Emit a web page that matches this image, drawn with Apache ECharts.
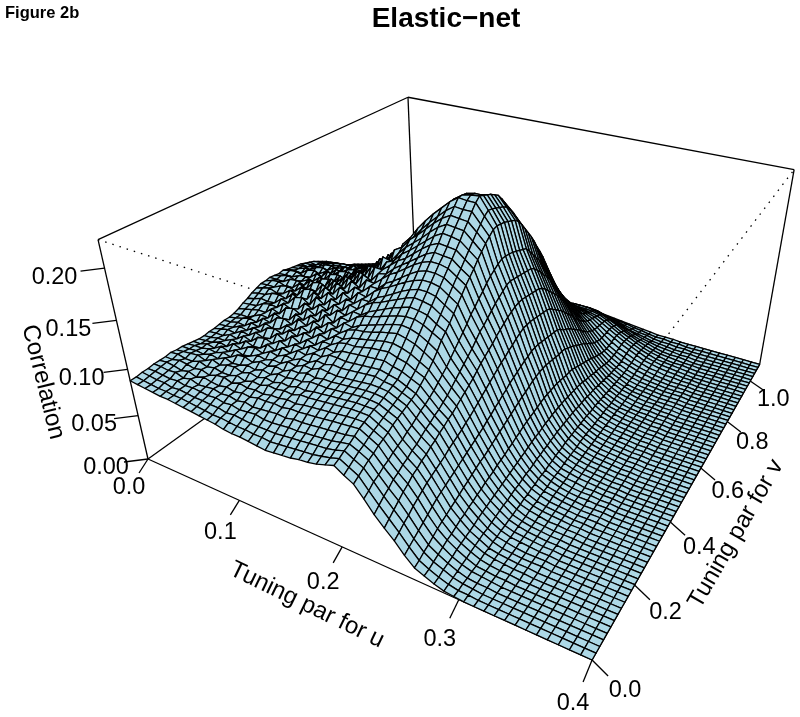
<!DOCTYPE html>
<html><head><meta charset="utf-8">
<style>html,body{margin:0;padding:0;background:#fff}#c{width:800px;height:717px}</style>
<script src="https://cdn.jsdelivr.net/npm/echarts@6/dist/echarts.min.js"></script>
</head><body><div id="c"></div>
<script>
const uMax = 0.4, vMax = 1.09, zMax = 0.226;
const uTicks = [0.0, 0.1, 0.2, 0.3, 0.4];
const vTicks = [0.0, 0.2, 0.4, 0.6, 0.8, 1.0];
const zTicks = [0.00, 0.05, 0.10, 0.15, 0.20];
const flatRow = [0,0,0,0,0,0,0,0,0,0,0,0,0,0,0,0,0,0,0,0,0,0,0,0,0,0,0,0,0,0,0,0,0,0,0,0,0,0,0,0,0,0,0,0,0,0,0,0,0,0,0,0,0,0,0,0,0,0,0,0,0,0,0,0,0,0];
// correlation x 1000; one row per u step, one column per v step
const corrByU = [
[88,88,89,89,90,90,90,91,90,90,89,88,87, 87,88,88,89,90,90,91,93,96,98,101,103,105, 105,106,105,104,105,103,102,101,100,98,96,94,91, 88,85,81,77,73,69,65,62,60,57,54,51,48, 45,42,39,35,32,29,26,23,21,18,16,14,12, 10],
[87,87,88,89,90,91,90,92,91,90,90,88,88, 88,89,90,90,91,92,92,95,97,100,103,106,106, 108,106,107,105,107,104,103,103,99,98,95,95,91, 88,85,82,78,74,70,66,63,60,57,54,51,48, 46,42,39,36,32,29,26,23,21,18,16,14,12, 10],
[86,86,87,88,89,90,92,90,92,91,90,91,89, 90,89,92,91,93,94,92,97,98,103,104,108,106, 109,106,110,105,108,103,106,101,102,98,99,94,90, 90,84,83,77,75,70,67,63,61,57,55,51,49, 46,43,39,36,32,29,26,23,21,18,16,14,12, 10],
[85,85,87,87,90,88,91,90,93,90,92,89,92, 90,93,91,95,92,97,96,99,103,102,108,105,110, 106,111,107,109,105,109,103,106,100,103,97,96,92, 92,85,84,78,76,71,68,63,62,57,55,52,49, 46,43,39,36,32,29,26,23,21,18,16,14,12, 9],
[84,85,85,88,87,90,89,93,90,93,91,94,90, 94,91,96,93,98,95,100,99,105,103,109,107,112, 107,112,108,110,106,111,104,108,102,104,98,98,93, 93,86,86,79,78,72,69,64,62,58,56,52,49, 47,43,40,36,33,29,26,23,21,18,16,14,12, 9],
[84,84,86,86,89,87,91,90,94,91,94,91,96, 92,97,94,99,96,102,99,106,104,110,107,113,109, 114,109,112,107,113,106,109,103,107,99,101,95,95, 88,87,80,79,73,71,65,63,59,57,53,50,47, 44,40,37,33,30,27,24,21,18,16,14,12,10, 9],
[83,84,85,87,86,90,88,92,91,95,92,96,93, 98,94,100,97,103,100,107,103,111,108,115,110,116, 111,117,110,114,108,115,107,111,104,108,100,103,96, 96,89,88,81,80,74,72,66,64,60,58,54,50, 47,44,40,37,33,30,27,24,21,18,16,14,12, 9],
[82,83,84,86,87,88,91,90,94,92,97,93,98, 95,101,97,104,100,108,103,112,107,117,111,119,113, 120,113,118,111,117,108,114,106,110,102,105,98,98, 91,90,83,81,75,73,67,65,60,58,54,51,47,44, 41,37,33,30,27,24,21,18,16,14,12,10, 9],
[81,82,84,85,88,87,92,90,95,93,98,95,100, 96,103,99,106,102,110,105,114,110,119,114,122,116, 123,115,120,113,119,110,116,108,112,104,107,99,100, 92,91,84,83,76,74,68,66,61,59,55,51,48, 45,41,37,34,30,27,24,21,18,16,14,12,10, 9],
[80,81,83,86,86,89,89,93,92,96,95,99,97, 103,100,107,103,109,106,114,110,119,114,124,118,126, 119,126,118,123,115,121,112,118,109,113,105,108,100, 100,93,92,85,83,77,75,69,67,62,59,55,52, 48,45,41,38,34,30,27,24,21,18,16,14,12, 8],
[79,80,83,84,87,87,92,90,95,94,99,97,102, 99,106,102,110,106,115,110,119,115,125,120,129,122, 130,122,127,119,125,116,122,113,118,109,113,104,105, 97,96,88,86,79,77,71,68,63,60,55,52,49, 45,41,38,34,30,27,24,21,18,16,14,12,10, 8],
[78,80,81,85,85,89,90,93,93,97,97,100,100, 105,102,110,106,113,110,118,114,123,119,129,124,133, 126,134,126,131,123,130,120,126,116,120,111,114,107, 107,99,98,90,87,81,79,72,69,64,61,56,53, 49,45,42,38,34,30,27,24,21,18,16,14,12, 8],
[76,79,82,83,87,88,91,92,96,95,100,99,104, 102,108,105,113,109,118,114,123,119,128,124,134,129, 138,130,138,131,137,128,134,124,129,119,123,114,116, 108,107,100,98,91,88,82,79,73,70,64,61,56, 53,49,45,42,38,34,30,27,24,21,18,15,12, 8],
[75,78,81,84,85,90,90,95,94,99,98,104,102, 108,106,112,110,118,114,124,120,128,125,134,130,140, 134,143,136,144,134,142,132,138,127,133,122,125,116, 117,109,108,100,98,91,89,82,80,73,70,64,60, 56,52,48,44,40,36,32,28,25,21,18,15,12, 8],
[75,78,80,85,86,90,92,94,97,98,102,102,106, 106,112,109,117,114,122,118,128,124,133,129,139,135, 146,139,149,141,151,142,149,138,144,133,138,127,128, 119,118,110,108,101,98,91,88,81,79,72,67,62, 58,53,49,45,41,36,32,28,25,21,18,15,12, 8],
[74,77,80,83,87,91,92,96,96,100,102,106,105, 111,110,116,114,122,119,127,125,133,131,139,137,146, 142,153,146,158,149,156,146,153,143,149,138,141,132, 130,122,119,112,109,102,99,91,88,81,77,70,64, 60,54,50,46,41,36,32,28,25,21,18,15,12, 8],
[73,77,80,83,88,90,94,95,99,100,105,105,110, 110,116,115,121,120,127,125,132,131,138,137,145,145, 152,153,158,156,165,158,165,156,161,152,155,147,145, 139,131,128,120,116,110,106,98,95,87,81,73,67, 62,55,51,46,41,36,32,28,25,21,18,15,12, 8],
[72,76,80,84,87,92,93,98,98,103,103,109,109, 115,114,120,120,126,125,132,131,138,138,145,145,152, 154,160,162,166,170,168,174,168,172,164,166,158,155, 149,140,136,127,123,117,112,104,99,91,84,76,69, 64,56,51,46,41,36,32,28,25,21,18,15,12, 8],
[73,77,81,85,89,92,95,98,100,103,105,108,112, 115,118,122,124,129,130,136,137,143,145,151,153,159, 162,167,171,175,180,180,186,181,184,177,177,170,166, 160,150,145,135,130,124,118,110,104,95,87,78,71, 65,57,52,47,41,36,32,28,25,21,18,15,12, 8],
[74,78,82,85,89,93,96,99,101,103,105,107,111, 114,119,122,126,130,133,138,141,146,149,155,158,164, 168,172,177,182,187,190,196,192,195,188,187,180,175, 168,158,152,142,136,130,123,115,108,98,90,80,72, 66,58,52,47,41,36,32,28,25,21,18,15,12, 8],
[75,79,83,86,90,94,97,100,102,104,106,108,112, 115,120,124,128,132,136,141,145,150,154,160,164,170, 174,179,184,189,195,199,205,202,204,198,196,189,184, 176,166,159,149,142,135,128,120,112,102,92,81,73, 67,59,53,47,41,36,32,28,25,21,18,15,12, 8],
[77,80,84,87,91,95,98,101,103,105,107,109,113, 116,121,126,130,135,139,144,149,154,159,165,170,176, 180,186,191,197,203,207,213,212,212,206,204,197,192, 184,174,166,156,148,141,134,125,116,105,94,82,73, 67,59,53,47,41,36,32,29,26,22,18,15,12, 8],
[78,81,85,88,92,96,99,102,104,106,108,110,114, 117,122,127,132,137,142,147,152,158,163,169,175,181, 186,192,198,204,210,215,221,221,220,214,211,204,199, 191,181,172,162,154,146,139,129,119,108,96,83,74, 67,59,53,47,41,36,33,30,27,22,18,15,12, 8],
[80,83,86,89,93,97,100,103,105,107,109,111,115, 118,123,128,133,139,144,149,155,161,166,172,178,184, 190,196,203,209,215,221,227,227,226,220,217,210,205, 197,187,178,168,160,151,144,133,122,110,98,85,75, 67,59,53,47,42,37,34,31,28,23,19,15,12, 8],
[83,85,88,91,94,98,101,103,105,107,109,111,113, 116,120,125,131,137,143,149,154,160,166,172,178,184, 189,195,202,208,214,220,226,229,228,224,221,215,211, 203,195,185,176,167,158,150,140,128,116,103,90,79, 70,62,55,49,43,38,35,32,29,24,19,15,11, 7],
[86,88,91,93,96,99,101,103,105,106,108,110,112, 114,118,123,128,134,140,146,152,158,164,170,176,182, 188,194,200,207,213,220,226,230,228,226,224,221,218, 212,205,197,189,181,173,162,154,143,132,120,108,96, 84,75,66,57,48,40,36,33,30,25,19,14,10, 7],
[80,83,86,89,91,94,96,98,100,102,104,106,108, 110,114,118,123,129,135,141,146,152,158,164,170,176, 181,187,193,199,205,210,215,218,217,215,213,211,208, 203,197,189,181,173,165,155,147,137,127,116,105,94, 83,74,66,58,50,43,38,35,31,25,20,15,11, 8],
[75,78,81,84,86,89,91,93,96,98,100,102,104, 106,110,114,118,123,129,136,141,146,152,158,164,170, 175,180,186,191,196,200,204,205,204,203,201,199,197, 193,187,180,173,166,158,149,141,132,122,112,102,92, 82,73,66,59,52,45,40,37,33,27,21,16,11, 8],
[64,67,71,73,76,78,81,83,85,88,90,93,96, 98,101,104,108,112,116,121,126,131,136,141,147,151, 156,160,165,169,172,175,177,177,176,175,173,171,169, 167,161,155,149,143,136,128,120,112,103,95,87,79, 72,65,59,54,48,43,39,37,33,27,22,16,12, 9],
[52,56,60,63,67,69,72,74,77,79,82,85,87, 90,92,95,98,102,106,110,114,118,122,127,132,135, 139,143,147,150,153,156,157,156,155,154,153,152,151, 148,143,138,132,127,121,114,107,100,92,85,78,71, 65,60,55,50,46,42,39,37,33,28,22,16,12, 9],
[42,46,50,54,58,61,65,67,70,72,75,77,80, 82,85,87,90,93,96,99,102,106,110,113,116,119, 123,126,129,132,134,136,137,137,136,135,134,133,132, 129,125,120,115,110,105,99,93,87,80,74,68,62, 57,53,49,46,43,40,38,35,32,27,21,15,11, 8],
[33,36,40,43,47,50,53,56,58,60,62,64,67, 69,71,73,76,78,81,84,87,90,93,96,99,102, 104,107,109,112,114,116,116,116,115,114,113,112,111, 109,105,101,97,93,88,83,78,73,67,62,57,53, 49,46,44,42,40,38,36,33,29,24,19,14,10, 7],
[22,25,28,31,34,37,40,43,45,47,49,51,53, 55,57,59,61,63,65,68,70,73,75,78,80,83, 85,87,89,91,92,94,94,94,93,92,91,90,89, 88,85,81,78,75,71,67,63,59,54,50,46,43, 40,38,37,36,35,34,32,29,25,21,16,12,9, 6],
[13,15,18,20,23,26,28,30,32,34,36,38,40, 42,44,46,47,49,51,53,55,57,59,61,63,65, 67,68,70,72,73,74,74,74,73,72,71,70,70, 69,66,64,61,58,55,52,49,45,42,38,35,33, 31,30,30,30,30,29,27,25,21,17,13,10,8, 5],
[9,10,12,14,16,18,19,21,23,24,26,27,29, 30,32,33,34,36,37,38,40,41,43,44,46,47, 48,49,50,51,52,52,52,52,52,51,50,49,49, 48,46,44,42,40,38,36,34,31,29,27,25,24, 23,23,24,25,25,24,22,20,17,14,10,8,6, 4],
[5,6,8,9,10,12,13,14,15,16,18,19,20, 21,22,23,24,25,26,27,28,29,30,31,32,33, 33,34,35,35,36,36,36,36,36,35,35,34,34, 33,32,30,29,28,26,25,24,22,21,19,18,18, 18,18,19,20,20,19,18,16,13,11,8,6,5, 3],
[2,3,4,5,6,7,8,9,10,11,11,12,13, 14,15,15,16,17,17,18,19,19,20,21,21,22, 22,23,23,24,24,24,24,24,24,24,23,23,23, 22,21,21,20,19,18,17,16,15,14,14,13,13, 13,14,15,16,16,15,14,12,10,8,6,5,3, 2],
[1,1,2,2,3,3,4,5,5,6,6,7,7, 8,8,9,9,10,10,11,11,12,12,12,13,13, 14,14,14,15,15,15,15,15,15,15,15,14,14, 14,14,13,13,12,12,11,11,10,10,9,9,9, 10,10,11,12,12,11,10,9,8,6,4,3,2, 1],
[0,1,1,1,2,2,2,3,3,3,4,4,4, 5,5,5,6,6,6,7,7,7,8,8,8,8, 9,9,9,9,9,10,10,10,10,9,9,9,9, 9,9,8,8,8,8,7,7,7,6,6,6,6, 7,7,8,8,8,8,7,6,5,4,3,2,2, 1],
[0,0,0,1,1,1,1,2,2,2,2,3,3, 3,3,3,4,4,4,4,5,5,5,5,5,6, 6,6,6,6,6,6,6,6,6,6,6,6,6, 6,6,6,5,5,5,5,5,4,4,4,4,4, 5,5,5,6,6,5,5,4,3,3,2,2,1, 1],
[0,0,0,0,0,1,1,1,1,1,1,2,2, 2,2,2,2,3,3,3,3,3,3,3,4,4, 4,4,4,4,4,4,4,4,4,4,4,4,4, 4,4,4,4,3,3,3,3,3,3,3,3,3, 3,3,4,4,4,4,3,3,2,2,1,1,1, 0],
[0,0,0,0,0,0,0,1,1,1,1,1,1, 1,1,1,2,2,2,2,2,2,2,2,2,3, 3,3,3,3,3,3,3,3,3,3,3,3,3, 3,3,3,3,2,2,2,2,2,2,2,2,2, 2,2,2,3,3,3,2,2,2,1,1,1,0, 0],
[0,0,0,0,0,0,0,0,0,1,1,1,1, 1,1,1,1,1,1,1,1,1,2,2,2,2, 2,2,2,2,2,2,2,2,2,2,2,2,2, 2,2,2,2,2,2,2,2,1,1,1,1,1, 1,1,2,2,2,2,2,1,1,1,1,0,0, 0],
[0,0,0,0,0,0,0,0,0,0,0,0,0, 0,0,1,1,1,1,1,1,1,1,1,1,1, 1,1,1,1,1,1,1,1,1,1,1,1,1, 1,1,1,1,1,1,1,1,1,1,1,1,1, 1,1,1,1,1,1,1,1,0,0,0,0,0, 0],
[0,0,0,0,0,0,0,0,0,0,0,0,0, 0,0,0,0,0,0,1,1,1,1,1,1,1, 1,1,1,1,1,1,1,1,1,1,1,1,1, 1,1,1,1,1,1,1,1,1,1,1,1,1, 1,1,1,1,0,0,0,0,0,0,0,0,0, 0],
flatRow, flatRow, flatRow, flatRow, flatRow, flatRow
];
const FONT = '"Liberation Sans", Arial, sans-serif';

// camera of the perspective plot: box coordinates -> page position
function project(u, v, z) {
  const x = u / uMax, y = v / vMax, t = z / zMax;
  const w = 1 - 0.2229 * x + 0.3966 * y - 0.1299 * t;
  return [(148 + 312.1 * x + 431.5 * y - 62.7 * t) / w,
          (459 + 53.9 * x - 85.3 * y - 250.5 * t) / w];
}
const nU = corrByU.length, nV = flatRow.length;
const uAt = i => uMax * i / (nU - 1), vAt = j => vMax * j / (nV - 1);
const corrAt = (i, j) => { const r = corrByU[i]; return r[Math.min(j, r.length - 1)] / 1000; };

// painter's order: far corner (u=0, v=max) first
const cells = [];
for (let i = 0; i < nU - 1; i++) for (let j = nV - 2; j >= 0; j--) cells.push([i, j]);

const edges = [
  [0,0,0, 0,0,1, 0], [0,0,1, 0,1,1, 0], [0,1,1, 1,1,1, 0], [1,1,1, 1,1,0, 0],
  [0,1,1, 0,1,0, 0], [0,0,0, 0,1,0, 0], [0,1,0, 1,1,0, 0], [0,0,0, 1,0,0, 0], [1,0,0, 1,1,0, 0],
  [0,0,1, 1,0,1, 1], [1,0,1, 1,1,1, 1], [1,0,1, 1,0,0, 1]
];
const ln = (a, b, lw, dash) => ({type:'line', shape:{x1:a[0],y1:a[1],x2:b[0],y2:b[1]},
  style:{stroke:'#000', lineWidth:lw, lineDash:dash||null}});
const txt = (text, x, y, rot, size) => ({type:'text', x, y, rotation:(rot||0)*Math.PI/180,
  style:{text, x:0, y:0, fill:'#000', fontSize:size||23.5, fontFamily:FONT, align:'center', verticalAlign:'middle'}});

const axisMarks = [];
uTicks.forEach(u => axisMarks.push({kind:'u', val:u}));
vTicks.forEach(v => axisMarks.push({kind:'v', val:v}));
zTicks.forEach(z => axisMarks.push({kind:'z', val:z}));

const chart = echarts.init(document.getElementById('c'), null, {renderer:'canvas'});
chart.setOption({
  animation:false,
  backgroundColor:'#fff',
  title:[
    {text:'Elastic\u2212net', left:446, top:5, padding:0, textAlign:'center',
     textStyle:{fontFamily:FONT, fontWeight:'bold', fontSize:28, color:'#000'}},
    {text:'Figure 2b', left:5, top:5, padding:0,
     textStyle:{fontFamily:FONT, fontWeight:'bold', fontSize:16.5, color:'#000'}}
  ],
  grid:{left:0, right:0, top:0, bottom:0},
  xAxis:{type:'value', min:0, max:800, show:false},
  yAxis:{type:'value', min:0, max:717, inverse:true, show:false},
  series:[
    {type:'custom', name:'box', coordinateSystem:'cartesian2d', silent:true, z:1, clip:false,
     data:edges, progressive:0,
     renderItem:(p, api) => {
       const e = edges[p.dataIndex];
       const a = api.coord(project(e[0]*uMax, e[1]*vMax, e[2]*zMax));
       const b = api.coord(project(e[3]*uMax, e[4]*vMax, e[5]*zMax));
       return ln(a, b, 1.3, e[6] ? [1.5, 6] : null);
     }},
    {type:'custom', name:'axes', coordinateSystem:'cartesian2d', silent:true, z:1, clip:false,
     data:axisMarks.map((m, k) => [k]), progressive:0,
     renderItem:(p, api) => {
       const m = axisMarks[p.dataIndex];
       let base, tick, lab, text;
       if (m.kind === 'u') {
         const f = m.val / uMax;
         base = project(m.val, 0, 0); tick = [-9, 14 + 8*f*f]; lab = [-19, 29 + 14*f]; text = m.val.toFixed(1);
       } else if (m.kind === 'v') {
         const f = m.val;
         base = project(uMax, m.val, 0); tick = [16 - 3*f, 16 - 7*f]; lab = [33 - 10*f, 30 - 11*f]; text = m.val.toFixed(1);
       } else {
         const f = m.val / 0.2;
         base = project(0, 0, m.val); tick = [-24, 3]; lab = [-42 - 8*f, 9]; text = m.val.toFixed(2);
       }
       const a = api.coord(base);
       return {type:'group', children:[
         ln(a, [a[0]+tick[0], a[1]+tick[1]], 1.3),
         txt(text, a[0]+lab[0], a[1]+lab[1])
       ]};
     }},
    {type:'custom', name:'axisTitles', coordinateSystem:'cartesian2d', silent:true, z:1, clip:false,
     data:[[0],[1],[2]], progressive:0,
     renderItem:(p, api) => {
       const t = [['Correlation',[43,382],-76],['Tuning par for u',[307,605],-26],['Tuning par for v',[736,534],60]][p.dataIndex];
       const c = api.coord(t[1]);
       return txt(t[0], c[0], c[1], t[2], 24);
     }},
    {type:'custom', name:'surface', coordinateSystem:'cartesian2d', silent:true, z:2, clip:false,
     data:cells, progressive:0, large:false,
     renderItem:(p, api) => {
       const [i, j] = cells[p.dataIndex];
       const pt = (a, b) => api.coord(project(uAt(a), vAt(b), corrAt(a, b)));
       return {type:'polygon', shape:{points:[pt(i,j), pt(i+1,j), pt(i+1,j+1), pt(i,j+1)]},
         style:{fill:'#ADD8E6', stroke:'#000', lineWidth:1.3, lineJoin:'round'}};
     }}
  ]
});
</script></body></html>
